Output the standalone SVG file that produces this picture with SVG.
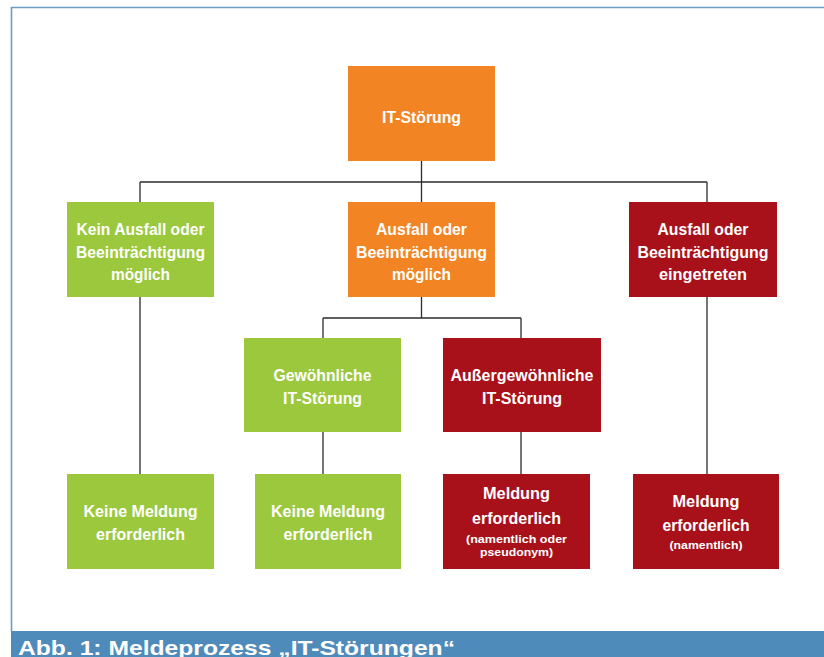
<svg xmlns="http://www.w3.org/2000/svg" width="824" height="657" viewBox="0 0 824 657">
<style>
.box text{font-family:"Liberation Sans",Arial,sans-serif;font-weight:bold;fill:#fff;text-anchor:middle}
.t{font-size:17px}
.s{font-size:11.5px}
.orange{fill:#F28424}
.green{fill:#9BC83C}
.red{fill:#A8111A}
#connectors path{stroke:#2b2b2b;stroke-width:1.3;fill:none}
</style>
<rect x="0" y="0" width="824" height="657" fill="#fff"/>
<g id="frame">
<path d="M11.5 631 V7.5 H824" fill="none" stroke="#6C9BC6" stroke-width="1.6"/>
<rect x="11" y="631" width="813" height="26" fill="#4F8BBA"/>
<text x="18" y="655" font-family="'Liberation Sans',Arial,sans-serif" font-weight="bold" font-size="21" fill="#fff" textLength="437" lengthAdjust="spacingAndGlyphs">Abb. 1: Meldeprozess „IT-Störungen“</text>
</g>
<g id="connectors">
<path d="M421.5 161 V202"/>
<path d="M140 182 H707"/>
<path d="M140 182 V202"/>
<path d="M707 182 V202"/>
<path d="M140 297 V474"/>
<path d="M707 297 V474"/>
<path d="M421.5 297 V318"/>
<path d="M323 318 H521"/>
<path d="M323 318 V338"/>
<path d="M521 318 V338"/>
<path d="M323 432 V474"/>
<path d="M521 432 V474"/>
</g>
<g id="n-it" class="box">
<rect class="orange" x="348" y="66" width="147" height="95"/>
<text class="t" x="421.5" y="123" textLength="79" lengthAdjust="spacingAndGlyphs">IT-Störung</text>
</g>
<g id="n-kein" class="box">
<rect class="green" x="67" y="202" width="147" height="95"/>
<text class="t" x="140.5" y="235" textLength="128" lengthAdjust="spacingAndGlyphs">Kein Ausfall oder</text>
<text class="t" x="140.5" y="257.5" textLength="129" lengthAdjust="spacingAndGlyphs">Beeinträchtigung</text>
<text class="t" x="140.5" y="280" textLength="59" lengthAdjust="spacingAndGlyphs">möglich</text>
</g>
<g id="n-moeglich" class="box">
<rect class="orange" x="348" y="202" width="147" height="95"/>
<text class="t" x="421.5" y="235" textLength="91" lengthAdjust="spacingAndGlyphs">Ausfall oder</text>
<text class="t" x="421.5" y="257.5" textLength="131" lengthAdjust="spacingAndGlyphs">Beeinträchtigung</text>
<text class="t" x="421.5" y="280" textLength="59" lengthAdjust="spacingAndGlyphs">möglich</text>
</g>
<g id="n-eingetreten" class="box">
<rect class="red" x="629" y="202" width="148" height="95"/>
<text class="t" x="703" y="235" textLength="91" lengthAdjust="spacingAndGlyphs">Ausfall oder</text>
<text class="t" x="703" y="257.5" textLength="131" lengthAdjust="spacingAndGlyphs">Beeinträchtigung</text>
<text class="t" x="703" y="280" textLength="88" lengthAdjust="spacingAndGlyphs">eingetreten</text>
</g>
<g id="n-gewoehnlich" class="box">
<rect class="green" x="244" y="338" width="157" height="94"/>
<text class="t" x="322.5" y="381" textLength="98" lengthAdjust="spacingAndGlyphs">Gewöhnliche</text>
<text class="t" x="322.5" y="404" textLength="79" lengthAdjust="spacingAndGlyphs">IT-Störung</text>
</g>
<g id="n-ausser" class="box">
<rect class="red" x="443" y="338" width="158" height="94"/>
<text class="t" x="522" y="381" textLength="143" lengthAdjust="spacingAndGlyphs">Außergewöhnliche</text>
<text class="t" x="522" y="404" textLength="80" lengthAdjust="spacingAndGlyphs">IT-Störung</text>
</g>
<g id="n-keine1" class="box">
<rect class="green" x="67" y="474" width="147" height="95"/>
<text class="t" x="140.5" y="517" textLength="114" lengthAdjust="spacingAndGlyphs">Keine Meldung</text>
<text class="t" x="140.5" y="540" textLength="89" lengthAdjust="spacingAndGlyphs">erforderlich</text>
</g>
<g id="n-keine2" class="box">
<rect class="green" x="255" y="474" width="146" height="95"/>
<text class="t" x="328" y="517" textLength="114" lengthAdjust="spacingAndGlyphs">Keine Meldung</text>
<text class="t" x="328" y="540" textLength="89" lengthAdjust="spacingAndGlyphs">erforderlich</text>
</g>
<g id="n-meldung-pseud" class="box">
<rect class="red" x="443" y="474" width="147" height="95"/>
<text class="t" x="516.5" y="499" textLength="67" lengthAdjust="spacingAndGlyphs">Meldung</text>
<text class="t" x="516.5" y="523.5" textLength="89" lengthAdjust="spacingAndGlyphs">erforderlich</text>
<text class="s" x="516.5" y="542.5" textLength="101" lengthAdjust="spacingAndGlyphs">(namentlich oder</text>
<text class="s" x="516.5" y="555.5" textLength="73" lengthAdjust="spacingAndGlyphs">pseudonym)</text>
</g>
<g id="n-meldung-nam" class="box">
<rect class="red" x="633" y="474" width="146" height="95"/>
<text class="t" x="706" y="507" textLength="67" lengthAdjust="spacingAndGlyphs">Meldung</text>
<text class="t" x="706" y="531" textLength="87" lengthAdjust="spacingAndGlyphs">erforderlich</text>
<text class="s" x="706" y="549" textLength="73" lengthAdjust="spacingAndGlyphs">(namentlich)</text>
</g>
</svg>
